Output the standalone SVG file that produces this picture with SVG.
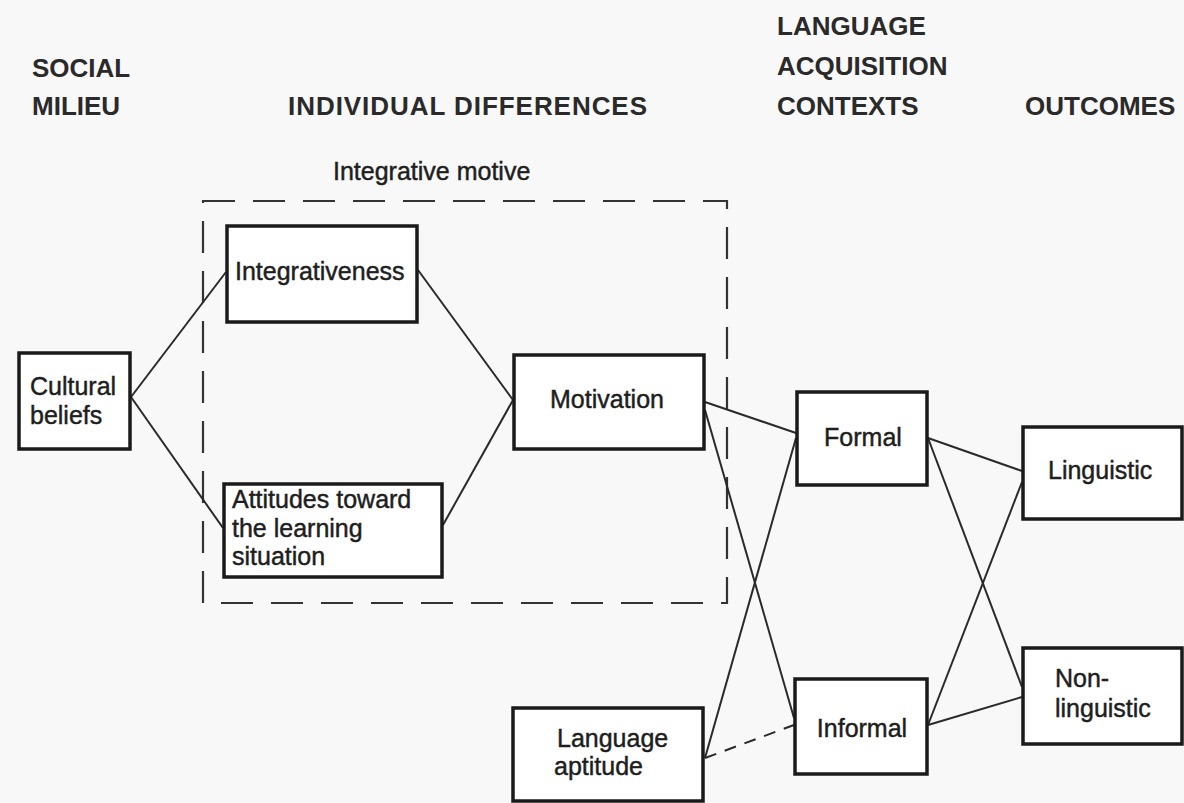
<svg xmlns="http://www.w3.org/2000/svg" width="1184" height="803" viewBox="0 0 1184 803">
  <style>
    .head { font-family: "Liberation Sans", Arial, sans-serif; font-size: 26px; font-weight: bold; fill: #2a2a2a; }
    .label { font-family: "Liberation Sans", Arial, sans-serif; font-size: 25px; fill: #1e1e1e; stroke: #1e1e1e; stroke-width: 0.45; }
    .mid { text-anchor: middle; }
    .box { fill: #ffffff; stroke: #1a1a1a; stroke-width: 3.5; }
    .link { stroke: #2a2a2a; stroke-width: 2; fill: none; }
    .dash { stroke: #2a2a2a; stroke-width: 2; fill: none; stroke-dasharray: 12 9; }
    .frame { stroke: #333333; stroke-width: 2.2; fill: none; stroke-dasharray: 32 18; }
  </style>

  <rect x="0" y="0" width="1184" height="803" fill="#f8f8f8"/>

  <!-- column headings -->
  <g id="headings">
    <text class="head" x="32" y="77">SOCIAL</text>
    <text class="head" x="32" y="115">MILIEU</text>
    <text class="head" x="288" y="115" textLength="359" lengthAdjust="spacing">INDIVIDUAL DIFFERENCES</text>
    <text class="head" x="777" y="35">LANGUAGE</text>
    <text class="head" x="777" y="75">ACQUISITION</text>
    <text class="head" x="777" y="115">CONTEXTS</text>
    <text class="head" x="1025" y="115">OUTCOMES</text>
  </g>

  <!-- dashed grouping: integrative motive -->
  <g id="integrative-motive">
    <rect class="frame" x="203" y="201" width="524" height="402"/>
    <text class="label" x="333" y="180">Integrative motive</text>
  </g>

  <!-- connectors -->
  <g id="connectors">
    <line class="link" x1="131" y1="397" x2="226" y2="272"/>
    <line class="link" x1="131" y1="397" x2="223" y2="528"/>
    <line class="link" x1="418" y1="270" x2="513" y2="400"/>
    <line class="link" x1="443" y1="525" x2="513" y2="400"/>
    <line class="link" x1="705" y1="402" x2="796" y2="433"/>
    <line class="link" x1="705" y1="410" x2="794" y2="718"/>
    <line class="link" x1="705" y1="758" x2="796" y2="438"/>
    <line class="dash" x1="705" y1="758" x2="794" y2="725"/>
    <line class="link" x1="928" y1="438" x2="1022" y2="471"/>
    <line class="link" x1="928" y1="438" x2="1022" y2="687"/>
    <line class="link" x1="928" y1="725" x2="1022" y2="482"/>
    <line class="link" x1="928" y1="725" x2="1022" y2="697"/>
  </g>

  <g id="cultural-beliefs">
    <rect class="box" x="19" y="353" width="111" height="96"/>
    <text class="label" x="30" y="395">Cultural</text>
    <text class="label" x="30" y="424">beliefs</text>
  </g>

  <g id="integrativeness">
    <rect class="box" x="227" y="226" width="190" height="96"/>
    <text class="label" x="235" y="280">Integrativeness</text>
  </g>

  <g id="attitudes">
    <rect class="box" x="224" y="484" width="218" height="93"/>
    <text class="label" x="232" y="508">Attitudes toward</text>
    <text class="label" x="232" y="537">the learning</text>
    <text class="label" x="232" y="565">situation</text>
  </g>

  <g id="motivation">
    <rect class="box" x="514" y="355" width="190" height="94"/>
    <text class="label mid" x="607" y="408">Motivation</text>
  </g>

  <g id="language-aptitude">
    <rect class="box" x="513" y="708" width="190" height="93"/>
    <text class="label" x="557" y="747">Language</text>
    <text class="label" x="554" y="775">aptitude</text>
  </g>

  <g id="formal">
    <rect class="box" x="797" y="392" width="130" height="93"/>
    <text class="label mid" x="863" y="446">Formal</text>
  </g>

  <g id="informal">
    <rect class="box" x="795" y="679" width="132" height="95"/>
    <text class="label mid" x="862" y="737">Informal</text>
  </g>

  <g id="linguistic">
    <rect class="box" x="1023" y="427" width="159" height="92"/>
    <text class="label" x="1048" y="479">Linguistic</text>
  </g>

  <g id="non-linguistic">
    <rect class="box" x="1023" y="648" width="159" height="96"/>
    <text class="label" x="1055" y="687">Non-</text>
    <text class="label" x="1055" y="717">linguistic</text>
  </g>
</svg>
